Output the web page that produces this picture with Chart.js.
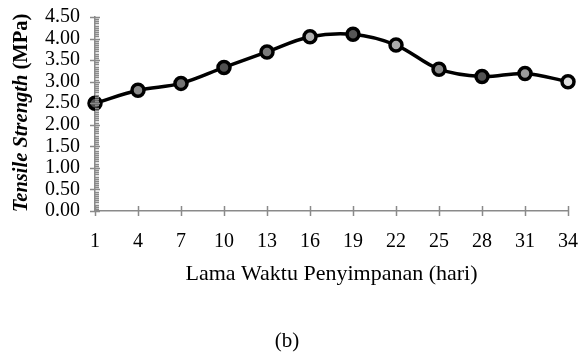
<!DOCTYPE html>
<html>
<head>
<meta charset="utf-8">
<script src="https://cdn.jsdelivr.net/npm/chart.js@4.4.1/dist/chart.umd.min.js"></script>
<style>
    html, body { margin: 0; padding: 0; background: #fff; }
    #wrap { width: 581px; height: 356px; position: relative; }
</style>
</head>
<body>
<div id="wrap"><canvas id="tensileChart"></canvas></div>
<script>
// storage days (hari)
const days = ['1', '4', '7', '10', '13', '16', '19', '22', '25', '28', '31', '34'];
// tensile strength, MPa
const tensile = [2.50, 2.80, 2.96, 3.33, 3.69, 4.04, 4.10, 3.85, 3.29, 3.12, 3.19, 3.00];
// marker fills as they appear in the figure
const markerFills = ['#4f4f4f', '#8a8a8a', '#747474', '#505050', '#7a7a7a', '#b0b0b0',
    '#565656', '#ababab', '#8a8a8a', '#545454', '#9a9a9a', '#dcdcdc'];
const yTicks = [0, 0.5, 1, 1.5, 2, 2.5, 3, 3.5, 4, 4.5];

const FONT = 'Liberation Serif';
const AXIS_GREY = '#8a8a8a';

// ticks crossing the axes + minor ticks on y, plus the titles
const axisDecor = {
    id: 'axisDecor',
    afterDraw(chart) {
        const ctx = chart.ctx;
        const x = chart.scales.x;
        const y = chart.scales.y;
        const area = chart.chartArea;

        ctx.save();
        ctx.strokeStyle = AXIS_GREY;
        ctx.lineWidth = 1.5;
        ctx.beginPath();
        for (let v = 0; v <= 4.5001; v += 0.05) {
            const py = Math.round(y.getPixelForValue(v)) + 0.5;
            const major = Math.abs(v / 0.5 - Math.round(v / 0.5)) < 1e-6;
            ctx.moveTo(area.left - (major ? 5 : 0), py);
            ctx.lineTo(area.left + (major ? 5 : 4), py);
        }
        x.ticks.forEach((t, i) => {
            const px = Math.round(x.getPixelForTick(i)) + 0.5;
            ctx.moveTo(px, area.bottom - 5);
            ctx.lineTo(px, area.bottom + 5);
        });
        ctx.stroke();

        // y title: italic bold part + bold part
        ctx.fillStyle = '#000';
        ctx.textBaseline = 'middle';
        ctx.translate(22, 113);
        ctx.rotate(-Math.PI / 2);
        const partA = 'Tensile Strength';
        const partB = ' (MPa)';
        ctx.font = 'italic bold 20.5px "' + FONT + '"';
        const wA = ctx.measureText(partA).width;
        ctx.font = 'bold 20.5px "' + FONT + '"';
        const wB = ctx.measureText(partB).width;
        let sx = -(wA + wB) / 2;
        ctx.font = 'italic bold 20.5px "' + FONT + '"';
        ctx.textAlign = 'left';
        ctx.fillText(partA, sx, 0);
        ctx.font = 'bold 20.5px "' + FONT + '"';
        ctx.fillText(partB, sx + wA, 0);
        ctx.restore();

        ctx.save();
        ctx.fillStyle = '#000';
        ctx.textAlign = 'center';
        ctx.textBaseline = 'middle';
        ctx.font = '22px "' + FONT + '"';
        ctx.fillText('Lama Waktu Penyimpanan (hari)', (area.left + area.right) / 2, 274);
        ctx.font = '21px "' + FONT + '"';
        ctx.fillText('(b)', 287, 341);
        ctx.restore();
    }
};

new Chart(document.getElementById('tensileChart'), {
    type: 'line',
    data: {
        labels: days,
        datasets: [{
            label: 'Tensile Strength',
            data: tensile,
            borderColor: '#000',
            borderWidth: 3.5,
            tension: 0.35,
            pointRadius: 6,
            pointBorderWidth: 3.5,
            pointBorderColor: '#000',
            pointBackgroundColor: markerFills,
            fill: false,
            clip: false,
        }],
    },
    options: {
        responsive: true,
        maintainAspectRatio: false,
        animation: false,
        layout: { padding: { top: 17, right: 13, left: 0, bottom: 0 } },
        plugins: {
            legend: { display: false },
            tooltip: { enabled: false },
        },
        scales: {
            x: {
                type: 'category',
                offset: false,
                grid: { display: false, drawTicks: false },
                border: { display: true, color: AXIS_GREY, width: 1.5 },
                ticks: {
                    color: '#000',
                    padding: 19,
                    maxRotation: 0,
                    autoSkip: false,
                    font: { family: FONT, size: 20 },
                },
                afterFit(scale) {
                    scale.height = 145;
                    scale.paddingLeft = 0;
                    scale.paddingRight = 0;
                },
            },
            y: {
                min: 0,
                max: 4.5,
                afterBuildTicks(scale) {
                    scale.ticks = yTicks.map(v => ({ value: v }));
                },
                grid: { display: false, drawTicks: false },
                border: { display: true, color: AXIS_GREY, width: 1.5 },
                ticks: {
                    color: '#000',
                    padding: 15,
                    autoSkip: false,
                    font: { family: FONT, size: 20 },
                    callback: value => Number(value).toFixed(2),
                },
                afterFit(scale) {
                    scale.width = 95;
                    scale.paddingTop = 0;
                    scale.paddingBottom = 0;
                },
            },
        },
    },
    plugins: [axisDecor],
});
</script>
</body>
</html>
